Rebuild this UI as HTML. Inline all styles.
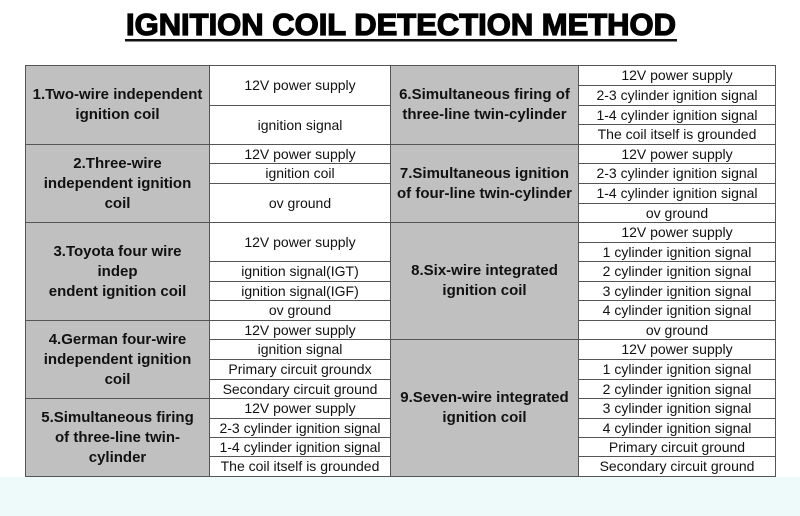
<!DOCTYPE html>
<html><head><style>
body{margin:0;width:800px;height:516px;background:#fff;position:relative;overflow:hidden;font-family:"Liberation Sans",Arial,sans-serif;}
.c{position:absolute;box-sizing:border-box;border:1px solid #555;display:flex;align-items:center;justify-content:center;text-align:center;font-size:14px;color:#111;background:#fff;line-height:19px;}
.h{background:#c0c0c0;font-weight:bold;font-size:15px;line-height:20px;color:#111;}
#band{position:absolute;left:0;top:477px;width:800px;height:39px;background:#eefafa;}
</style></head><body>
<svg style="position:absolute;left:0;top:0" width="800" height="50">
<text x="126" y="35" textLength="550" lengthAdjust="spacingAndGlyphs" font-family="Liberation Sans" font-weight="bold" font-size="31" fill="#000" stroke="#000" stroke-width="1.3">IGNITION COIL DETECTION METHOD</text>
<rect x="125" y="39" width="552" height="2.5" fill="#111"/>
</svg>
<div id="band"></div>
<script>
function cell(x1,x2,y1,y2,t,h){var d=document.createElement('div');d.className='c'+(h?' h':'');d.style.left=x1+'px';d.style.top=y1+'px';d.style.width=(x2-x1+1)+'px';d.style.height=(y2-y1+1)+'px';d.innerHTML=t;document.body.appendChild(d);}
var LH=[[65,144,'1.Two-wire independent<br>ignition coil'],[144,222,'2.Three-wire<br>independent ignition<br>coil'],[222,320,'3.Toyota four wire<br>indep<br>endent ignition coil'],[320,398,'4.German four-wire<br>independent ignition<br>coil'],[398,476,'5.Simultaneous firing<br>of three-line twin-<br>cylinder']];
LH.forEach(function(r){cell(25,209,r[0],r[1],r[2],1);});
var LC=[[65,105,'12V power supply'],[105,144,'ignition signal'],[144,163,'12V power supply'],[163,183,'ignition coil'],[183,222,'ov ground'],[222,261,'12V power supply'],[261,281,'ignition signal(IGT)'],[281,300,'ignition signal(IGF)'],[300,320,'ov ground'],[320,339,'12V power supply'],[339,359,'ignition signal'],[359,379,'Primary circuit groundx'],[379,398,'Secondary circuit ground'],[398,418,'12V power supply'],[418,437,'2-3 cylinder ignition signal'],[437,456,'1-4 cylinder ignition signal'],[456,476,'The coil itself is grounded']];
LC.forEach(function(r){cell(209,390,r[0],r[1],r[2],0);});
var RH=[[65,144,'6.Simultaneous firing of<br>three-line twin-cylinder'],[144,222,'7.Simultaneous ignition<br>of four-line twin-cylinder'],[222,339,'8.Six-wire integrated<br>ignition coil'],[339,476,'9.Seven-wire integrated<br>ignition coil']];
RH.forEach(function(r){cell(390,578,r[0],r[1],r[2],1);});
var yb=[65,85,105,124,144,163,183,203,222,242,261,281,300,320,339,359,379,398,418,437,456,476];
var RT=['12V power supply','2-3 cylinder ignition signal','1-4 cylinder ignition signal','The coil itself is grounded','12V power supply','2-3 cylinder ignition signal','1-4 cylinder ignition signal','ov ground','12V power supply','1 cylinder ignition signal','2 cylinder ignition signal','3 cylinder ignition signal','4 cylinder ignition signal','ov ground','12V power supply','1 cylinder ignition signal','2 cylinder ignition signal','3 cylinder ignition signal','4 cylinder ignition signal','Primary circuit ground','Secondary circuit ground'];
RT.forEach(function(t,i){cell(578,775,yb[i],yb[i+1],t,0);});
</script>
</body></html>
